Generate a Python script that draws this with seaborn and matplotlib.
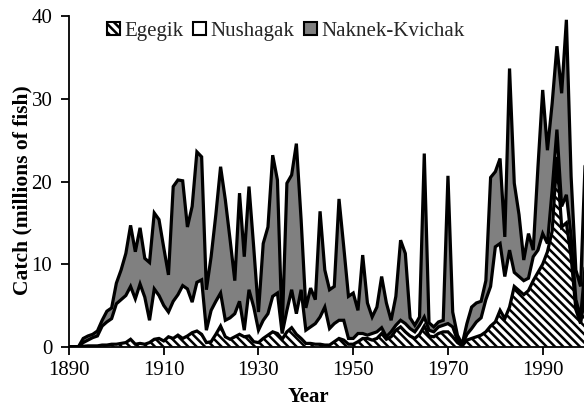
import numpy as np
import pandas as pd
import matplotlib
matplotlib.use("Agg")
import matplotlib.pyplot as plt
import seaborn as sns
from matplotlib.patches import Patch

# ---------------- data (millions of fish) ----------------
years = list(range(1890, 2000))

egegik = [
    0, 0, 0, 0.05, 0.1, 0.1, 0.1, 0.2, 0.2, 0.3,            # 1890s
    0.3, 0.4, 0.5, 0.9, 0.3, 0.4, 0.3, 0.5, 0.9, 1.0,       # 1900s
    0.7, 1.2, 1.0, 1.4, 1.0, 1.3, 1.7, 1.9, 1.5, 0.5,       # 1910s
    0.6, 1.5, 2.5, 1.2, 0.9, 1.2, 1.5, 1.2, 1.3, 0.6,       # 1920s
    0.5, 1.0, 1.4, 1.8, 1.6, 0.9, 1.8, 2.3, 1.5, 1.0,       # 1930s
    0.4, 0.4, 0.3, 0.3, 0.2, 0.2, 0.6, 1.0, 0.8, 0.3,       # 1940s
    0.3, 0.6, 1.0, 1.0, 0.8, 1.0, 1.6, 0.9, 1.2, 2.0,       # 1950s
    2.4, 1.8, 1.3, 1.0, 1.5, 2.5, 1.3, 1.2, 1.6, 1.8,       # 1960s
    1.8, 1.2, 0.5, 0.1, 0.8, 1.0, 1.2, 1.4, 1.8, 2.5,       # 1970s
    3.0, 4.4, 3.4, 4.8, 7.3, 6.8, 6.3, 6.8, 8.0, 9.0,       # 1980s
    10.0, 11.5, 14.0, 23.0, 14.5, 15.0, 10.9, 4.5, 2.8, 6.5, # 1990s
]

nushagak = [
    0, 0, 0, 0.45, 0.7, 1.0, 1.2, 2.3, 2.8, 3.1,
    4.9, 5.3, 5.7, 6.4, 5.5, 7.2, 5.7, 2.7, 6.1, 5.2,
    4.3, 3.0, 4.5, 4.9, 6.4, 5.7, 3.7, 5.9, 6.6, 1.5,
    3.8, 4.0, 4.0, 2.0, 2.6, 2.8, 4.0, 0.8, 5.6, 4.2,
    1.5, 2.2, 2.6, 4.3, 4.9, 0.7, 2.6, 4.6, 2.5, 5.9,
    1.6, 2.0, 2.5, 3.3, 4.6, 2.0, 2.2, 2.2, 2.4, 0.7,
    0.7, 1.0, 0.6, 0.4, 0.8, 0.8, 0.7, 0.3, 0.6, 0.6,
    0.8, 1.0, 0.9, 0.8, 1.1, 1.1, 0.7, 0.6, 0.8, 0.8,
    1.0, 1.2, 0.3, 0.1, 0.7, 1.2, 1.8, 2.1, 3.9, 4.8,
    9.1, 8.1, 5.1, 6.9, 1.7, 1.7, 1.7, 1.5, 2.9, 2.7,
    3.7, 1.0, 5.0, 3.3, 2.5, 3.4, 2.4, 1.2, 0.8, 3.5,
]

naknek_kvichak = [
    0, 0, 0, 0.5, 0.5, 0.4, 0.6, 0.7, 1.3, 1.3,
    2.5, 3.6, 5.1, 7.4, 5.7, 6.8, 4.7, 7.0, 9.2, 9.2,
    7.0, 4.5, 13.9, 13.9, 12.7, 7.5, 11.6, 15.8, 14.9, 4.9,
    6.5, 10.5, 15.3, 14.6, 9.5, 4.0, 13.1, 8.9, 12.5, 7.2,
    2.2, 9.3, 10.5, 17.1, 13.7, 0.4, 15.4, 13.9, 20.6, 8.5,
    2.7, 4.7, 2.9, 12.8, 4.5, 4.7, 4.5, 14.7, 8.9, 5.1,
    5.5, 2.8, 9.5, 3.9, 2.0, 3.0, 6.2, 4.1, 1.4, 3.5,
    9.7, 8.5, 1.3, 0.8, 1.0, 19.8, 0.9, 0.6, 0.6, 0.6,
    17.9, 1.8, 0.6, 0.1, 1.3, 2.6, 2.3, 2.0, 2.3, 13.2,
    9.1, 10.3, 4.8, 22.0, 10.8, 7.5, 2.5, 5.4, 0.8, 10.1,
    17.4, 11.3, 10.5, 10.1, 13.7, 21.2, 7.3, 3.6, 3.7, 13.0,
]

series_names = ["Egegik", "Nushagak", "Naknek-Kvichak"]
x_ticks = [1890, 1910, 1930, 1950, 1970, 1990]
y_ticks = [0, 10, 20, 30, 40]
x_label = "Year"
y_label = "Catch (millions of fish)"

# ---------------- style ----------------
sns.set_theme(style="ticks")
plt.rcParams["font.family"] = ["Liberation Serif", "DejaVu Serif"]
plt.rcParams["hatch.linewidth"] = 1.8
plt.rcParams["hatch.color"] = "black"

FS = 15
fill_colors = ["white", "white", "#808080"]
hatches = ["\\\\\\\\", "", ""]

W, H = 584, 407
fig = plt.figure(figsize=(W / 100, H / 100), dpi=100)
fig.patch.set_facecolor("white")
ax_left, ax_right, ax_top, ax_bottom = 69, 584, 16.5, 346.7
ax = fig.add_axes([ax_left / W, 1 - ax_bottom / H,
                   (ax_right - ax_left) / W, (ax_bottom - ax_top) / H])
ax.set_facecolor("white")

# stacked fills
polys = ax.stackplot(years, egegik, nushagak, naknek_kvichak,
                     colors=fill_colors, linewidth=0)
for p, h in zip(polys, hatches):
    p.set_edgecolor("black")
    p.set_linewidth(0)
    if h:
        p.set_hatch(h)

# boundary lines via seaborn
df = pd.DataFrame({"Year": years, "Egegik": egegik,
                   "Nushagak": nushagak, "Naknek-Kvichak": naknek_kvichak})
levels = df[series_names].cumsum(axis=1)
levels["Year"] = df["Year"]
long = levels.melt(id_vars="Year", var_name="Series", value_name="Level")
sns.lineplot(data=long, x="Year", y="Level", units="Series", estimator=None,
             color="black", linewidth=2.3, ax=ax, legend=False,
             solid_joinstyle="miter")

ax.set_xlim(1890, 1890 + (ax_right - ax_left) / 4.737)
ax.set_ylim(0, 40)
ax.set_xticks(x_ticks)
ax.set_yticks(y_ticks)

for s in ["top", "right"]:
    ax.spines[s].set_visible(False)
for s in ["left", "bottom"]:
    ax.spines[s].set_color("black")
    ax.spines[s].set_linewidth(1.3)
    ax.spines[s].set_zorder(5)

ax.tick_params(axis="both", direction="out", length=6, width=1.3,
               colors="black", labelsize=FS)
ax.tick_params(axis="x", pad=4)
ax.tick_params(axis="y", pad=6)

ax.set_xlabel(x_label, fontsize=FS, fontweight="bold", color="black")
ax.set_ylabel(y_label, fontsize=15.5, fontweight="bold", color="black")
ax.xaxis.set_label_coords((308 - ax_left) / (ax_right - ax_left),
                          -(386.5 - ax_bottom) / (ax_bottom - ax_top))
ax.yaxis.set_label_coords(-(ax_left - 32) / (ax_right - ax_left),
                          (ax_bottom - 190) / (ax_bottom - ax_top))

handles = [Patch(facecolor=c, edgecolor="black", hatch=h, linewidth=1.5)
           for c, h in zip(fill_colors, hatches)]
fig.legend(handles, series_names, loc="center left",
           bbox_to_anchor=(107 / W, 1 - 31.5 / H), ncol=3, frameon=False,
           fontsize=FS, handlelength=0.62, handleheight=0.55,
           handletextpad=0.22, columnspacing=0.45, borderpad=0,
           borderaxespad=0)

fig.savefig("out.png", dpi=100, facecolor="white")
